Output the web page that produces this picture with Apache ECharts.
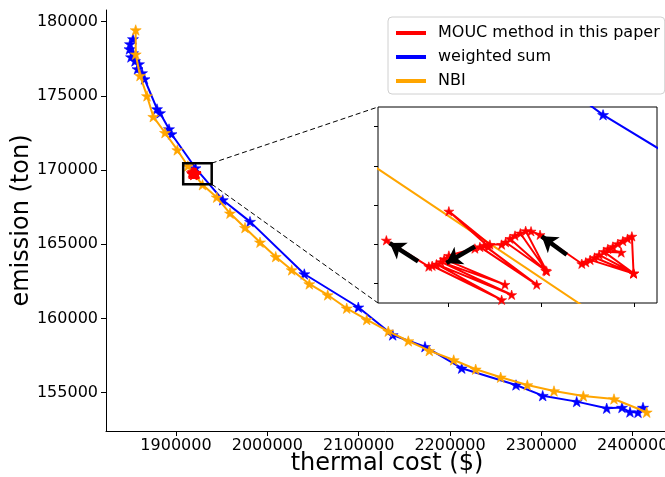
<!DOCTYPE html>
<html><head><meta charset="utf-8">
<script src="https://cdn.jsdelivr.net/npm/echarts@6/dist/echarts.min.js"></script>
<style>html,body{margin:0;padding:0;background:#fff}#c{width:665px;height:477px}</style>
</head><body><div id="c"></div>
<script>
// ---------- data ----------
const seriesNames = ['MOUC method in this paper', 'weighted sum', 'NBI'];
const xAxisName = 'thermal cost ($)';
const yAxisName = 'emission (ton)';
const xTicks = [1900000, 2000000, 2100000, 2200000, 2300000, 2400000];
const yTicks = [155000, 160000, 165000, 170000, 175000, 180000];
const xRange = [1823360, 2438640];
const yRange = [152410, 180780];
const insetXRange = [1916500, 1922500];
const insetYRange = [169650, 170150];
const insetXTicks = [1918000, 1920000, 1922000];
const insetYTicks = [169700, 169800, 169900, 170000, 170100];
const zoomRectX = [1907880, 1939080];
const zoomRectY = [169043, 170458];

const blueX = [1852900, 1849640, 1849090, 1852920, 1850730, 1855110, 1859490, 1857850, 1862780, 1865510,
  1879200, 1882480, 1892340, 1895070, 1921340, 1951130, 1981020, 2040460, 2099580, 2137240,
  2172600, 2212780, 2272230, 2301460, 2338680, 2371530, 2388280, 2397040, 2405800, 2411270];
const blueY = [178830, 178490, 178150, 177880, 177610, 177345, 177140, 176805, 176535, 176130,
  174110, 173840, 172760, 172425, 170130, 167980, 166520, 162990, 160750, 158880,
  158090, 156640, 155510, 154790, 154390, 153940, 153990, 153690, 153660, 153990];

const orangeX = [1855880, 1855880, 1860590, 1868250, 1875150, 1887960, 1901420, 1913000, 1929000, 1944560,
  1959120, 1975540, 1991960, 2009150, 2026670, 2045940, 2066080, 2086880, 2108780, 2132430,
  2154320, 2177310, 2204030, 2228110, 2255480, 2284600, 2313830, 2345910, 2379520, 2415320];
const orangeY = [179435, 177800, 176355, 174990, 173590, 172510, 171350, 170270, 169000, 168160,
  167082, 166112, 165128, 164157, 163261, 162318, 161576, 160680, 159912, 159130,
  158476, 157823, 157196, 156569, 156030, 155511, 155107, 154770, 154568, 153671];

const redX = [1921996, 1921960, 1921867, 1921766, 1921658, 1921551, 1921443, 1921730, 1921357, 1921996,
  1921256, 1921156, 1921996, 1921062, 1920969, 1920883, 1919985, 1919791, 1919676, 1920128,
  1919561, 1919446, 1919338, 1920107, 1919245, 1919159, 1918907, 1918024, 1918871, 1918785,
  1919913, 1918692, 1918584, 1918024, 1917923, 1919230, 1917851, 1919374, 1917758, 1919159,
  1917665, 1917593, 1916680];
const redY = [169726, 169820, 169814, 169808, 169801, 169794, 169788, 169779, 169781, 169726,
  169773, 169766, 169725, 169760, 169754, 169750, 169824, 169833, 169834, 169731,
  169828, 169822, 169814, 169733, 169805, 169799, 169799, 169884, 169794, 169797,
  169697, 169793, 169789, 169771, 169762, 169697, 169755, 169671, 169749, 169658,
  169745, 169743, 169810];

// arrows: tail -> tip
const arrowTail = [[1917363, 169756], [1918584, 169794], [1920559, 169773]];
const arrowTip = [[1916752, 169803], [1917973, 169752], [1920021, 169820]];

// ---------- build ----------
const FONT = 'DejaVu Sans';
const colors = ['#ff0000', '#0000ff', '#ffa500'];
const STAR = 'path://M100,0L122.45,69.1L195.1,69.1L136.3,111.8L158.8,180.9L100,138.2L41.2,180.9L63.7,111.8L4.9,69.1L77.55,69.1Z';
const zip = (xs, ys) => xs.map((x, i) => [x, ys[i]]);
const red = zip(redX, redY), blue = zip(blueX, blueY), orange = zip(orangeX, orangeY);

function mkSeries(name, data, color, g, z, size) {
  return {
    type: 'line', name, data, xAxisIndex: g, yAxisIndex: g, z,
    color, symbol: STAR, symbolSize: size, symbolKeepAspect: true, showSymbol: true,
    lineStyle: { width: 2, color }, itemStyle: { color, borderColor: color, borderWidth: 0.6 },
    clip: true, silent: true, animation: false
  };
}

const chart = echarts.init(document.getElementById('c'), null, { renderer: 'canvas' });
chart.setOption({
  animation: false,
  backgroundColor: '#fff',
  grid: [
    { left: 106, top: 10, width: 562, height: 421, show: false, containLabel: false, outerBoundsMode: 'none' },
    { left: 378, top: 107, width: 279, height: 196, show: true, backgroundColor: '#fff', borderColor: '#000', borderWidth: 1, z: 5,
      containLabel: false, outerBoundsMode: 'none' }
  ],
  xAxis: [
    { gridIndex: 0, type: 'value', min: xRange[0], max: xRange[1],
      axisLine: { show: true, onZero: false, lineStyle: { color: '#000', width: 1 } },
      axisTick: { show: true, customValues: xTicks, length: 5, lineStyle: { color: '#000' } },
      axisLabel: { show: true, customValues: xTicks, formatter: v => String(v), color: '#000', fontSize: 16, fontFamily: FONT, margin: 7 },
      splitLine: { show: false },
      name: xAxisName, nameLocation: 'middle', nameGap: 21, nameMoveOverlap: false,
      nameTextStyle: { fontSize: 24, color: '#000', fontFamily: FONT } },
    { gridIndex: 1, type: 'value', min: insetXRange[0], max: insetXRange[1], z: 9,
      axisLine: { show: false, onZero: false },
      axisTick: { show: true, customValues: insetXTicks, length: 4, lineStyle: { color: '#000' } },
      axisLabel: { show: false }, splitLine: { show: false } }
  ],
  yAxis: [
    { gridIndex: 0, type: 'value', min: yRange[0], max: yRange[1],
      axisLine: { show: true, onZero: false, lineStyle: { color: '#000', width: 1 } },
      axisTick: { show: true, customValues: yTicks, length: 5, lineStyle: { color: '#000' } },
      axisLabel: { show: true, customValues: yTicks, formatter: v => String(v), color: '#000', fontSize: 16, fontFamily: FONT, margin: 8 },
      splitLine: { show: false },
      name: yAxisName, nameLocation: 'middle', nameGap: 72, nameMoveOverlap: false,
      nameTextStyle: { fontSize: 24, color: '#000', fontFamily: FONT } },
    { gridIndex: 1, type: 'value', min: insetYRange[0], max: insetYRange[1], z: 9,
      axisLine: { show: false, onZero: false },
      axisTick: { show: true, customValues: insetYTicks, length: 4, lineStyle: { color: '#000' } },
      axisLabel: { show: false }, splitLine: { show: false } }
  ],
  legend: {
    orient: 'vertical', left: 388, top: 17,
    data: seriesNames,
    icon: 'rect', itemWidth: 28, itemHeight: 2, itemGap: 8,
    padding: [8, 5, 5, 8],
    borderColor: '#d0d0d0', borderWidth: 1, borderRadius: 4, backgroundColor: 'rgba(255,255,255,0.8)',
    textStyle: { fontSize: 16, fontFamily: FONT, color: '#000', lineHeight: 16, padding: [0, 0, 0, 8] },
    selectedMode: false
  },
  series: [
    mkSeries(seriesNames[0], red, colors[0], 0, 4, 10),
    mkSeries(seriesNames[1], blue, colors[1], 0, 2, 11),
    mkSeries(seriesNames[2], orange, colors[2], 0, 3, 11),
    mkSeries(seriesNames[1], blue, colors[1], 1, 6, 11),
    mkSeries(seriesNames[2], orange, colors[2], 1, 6, 11),
    mkSeries(seriesNames[0], red, colors[0], 1, 7, 10),
    { type: 'lines', coordinateSystem: 'cartesian2d', xAxisIndex: 1, yAxisIndex: 1, z: 8,
      polyline: false, silent: true, animation: false,
      symbol: ['none', 'arrow'], symbolSize: [15, 15],
      lineStyle: { color: '#000', width: 4.5, opacity: 1, curveness: 0 },
      data: arrowTail.map((t, i) => ({ coords: [t, arrowTip[i]] })) }
  ]
});

// zoom rectangle and connectors
const p = (g, v) => chart.convertToPixel({ gridIndex: g }, v);
const r1 = p(0, [zoomRectX[0], zoomRectY[1]]);
const r2 = p(0, [zoomRectX[1], zoomRectY[0]]);
const iTL = p(1, [insetXRange[0], insetYRange[1]]);
const iBL = p(1, [insetXRange[0], insetYRange[0]]);
chart.setOption({
  graphic: [
    { type: 'rect', z: 20, silent: true, shape: { x: r1[0], y: r1[1], width: r2[0] - r1[0], height: r2[1] - r1[1] },
      style: { fill: 'none', stroke: '#000', lineWidth: 2.5 } },
    { type: 'line', z: 20, silent: true, shape: { x1: r2[0], y1: r1[1], x2: iTL[0], y2: iTL[1] },
      style: { stroke: '#000', lineWidth: 1, lineDash: [5, 3] } },
    { type: 'line', z: 20, silent: true, shape: { x1: r2[0], y1: r2[1], x2: iBL[0], y2: iBL[1] },
      style: { stroke: '#000', lineWidth: 1, lineDash: [5, 3] } }
  ]
});
</script></body></html>
